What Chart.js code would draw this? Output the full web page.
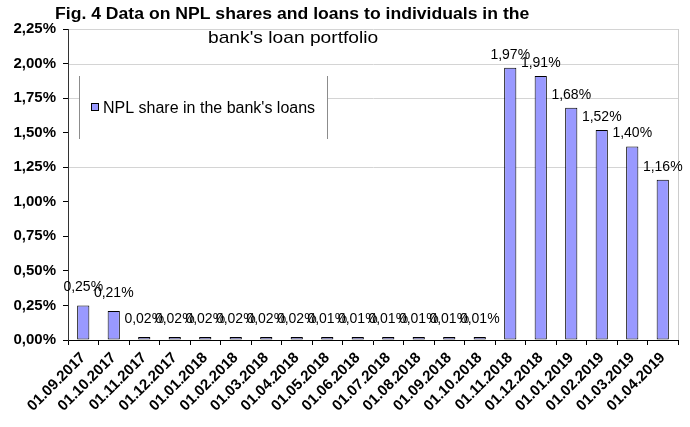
<!DOCTYPE html>
<html><head><meta charset="utf-8">
<script src="https://cdn.jsdelivr.net/npm/chart.js@4.4.1/dist/chart.umd.min.js"></script>
<style>html,body{margin:0;padding:0;background:#fff}#wrap{width:690px;height:427px}canvas{display:block}</style>
</head><body><div id="wrap"><canvas id="c" width="690" height="427"></canvas></div>
<script>
// ---- data ----
const categories = ["01.09.2017","01.10.2017","01.11.2017","01.12.2017","01.01.2018","01.02.2018","01.03.2018","01.04.2018","01.05.2018","01.06.2018","01.07.2018","01.08.2018","01.09.2018","01.10.2018","01.11.2018","01.12.2018","01.01.2019","01.02.2019","01.03.2019","01.04.2019"];
const nplShare = [0.25,0.21,0.02,0.02,0.02,0.02,0.02,0.02,0.01,0.01,0.01,0.01,0.01,0.01,1.97,1.91,1.68,1.52,1.40,1.16];
const seriesName = "NPL share in the bank's loans";
const titleLine1 = "Fig. 4 Data on NPL shares and loans to individuals in the";
const titleLine2 = "bank's loan portfolio";
const yMin = 0, yMax = 2.25, yStep = 0.25;
const gridAt = [1.25, 1.75, 2.00, 2.25];

const FONT = '"Liberation Sans", Arial, sans-serif';
const fmt = v => v.toFixed(2).replace('.', ',') + '%';

const overlay = {
  id: 'overlay',
  beforeDatasetsDraw(chart) {
    const ctx = chart.ctx;
    const y = chart.scales.y;
    const a = chart.chartArea;
    ctx.save();
    ctx.strokeStyle = '#d4d4d4';
    ctx.lineWidth = 1;
    ctx.beginPath();
    gridAt.forEach(g => {
      const py = Math.round(y.getPixelForValue(g)) + 0.5;
      ctx.moveTo(a.left + 1, py);
      ctx.lineTo(a.right, py);
    });
    ctx.stroke();
    ctx.restore();
  },
  afterDatasetsDraw(chart) {
    const ctx = chart.ctx;
    // data labels
    const meta = chart.getDatasetMeta(0);
    ctx.save();
    ctx.font = '14px ' + FONT;
    ctx.fillStyle = '#000';
    ctx.textAlign = 'center';
    ctx.textBaseline = 'alphabetic';
    meta.data.forEach((el, i) => {
      const v = nplShare[i];
      const off = v >= 1 ? 9 : 14;
      ctx.fillText(fmt(v), el.x, el.y - off);
    });
    ctx.restore();
    // legend
    ctx.save();
    ctx.fillStyle = '#fff';
    ctx.fillRect(79, 76, 248, 63);
    ctx.strokeStyle = '#8c8c8c';
    ctx.lineWidth = 1;
    ctx.beginPath();
    ctx.moveTo(79.5, 76); ctx.lineTo(79.5, 139);
    ctx.moveTo(327.5, 76); ctx.lineTo(327.5, 139);
    ctx.stroke();
    ctx.fillStyle = '#9999FF';
    ctx.fillRect(91, 103, 8, 8);
    ctx.strokeStyle = '#000';
    ctx.strokeRect(91.5, 103.5, 7, 7);
    ctx.fillStyle = '#000';
    ctx.font = '16px ' + FONT;
    ctx.textAlign = 'left';
    ctx.textBaseline = 'alphabetic';
    ctx.fillText(seriesName, 103, 113);
    ctx.restore();
  },
  afterDraw(chart) {
    const ctx = chart.ctx;
    ctx.save();
    ctx.fillStyle = '#000';
    ctx.textAlign = 'left';
    ctx.textBaseline = 'alphabetic';
    ctx.translate(55, 19);
    ctx.scale(1.1, 1);
    ctx.font = 'bold 16px ' + FONT;
    ctx.fillText(titleLine1, 0, 0);
    ctx.restore();
    ctx.save();
    ctx.fillStyle = '#000';
    ctx.translate(208, 43);
    ctx.scale(1.13, 1);
    ctx.font = '17px ' + FONT;
    ctx.fillText(titleLine2, 0, 0);
    ctx.restore();
  }
};

new Chart(document.getElementById('c'), {
  type: 'bar',
  data: {
    labels: categories,
    datasets: [{
      label: seriesName,
      data: nplShare,
      backgroundColor: '#9999FF',
      borderColor: '#000',
      borderWidth: 1,
      borderSkipped: false,
      minBarLength: 3,
      barPercentage: 0.4,
      categoryPercentage: 1
    }]
  },
  options: {
    responsive: false,
    animation: false,
    devicePixelRatio: 1,
    layout: { padding: { top: 29, right: 12, left: 0, bottom: 0 } },
    plugins: { legend: { display: false }, title: { display: false }, tooltip: { enabled: false } },
    scales: {
      x: {
        grid: {
          offset: true,
          color: c => c.tick ? 'rgba(0,0,0,0)' : '#cccccc',
          tickColor: '#000',
          tickLength: 5
        },
        border: { color: '#000', width: 1 },
        ticks: {
          minRotation: 45, maxRotation: 45, autoSkip: false, padding: 4,
          color: '#000', font: { family: FONT, size: 15, weight: 'bold' }
        },
        afterFit: s => { s.height = 87; }
      },
      y: {
        min: yMin, max: yMax,
        ticks: {
          stepSize: yStep, padding: 7, color: '#000',
          font: { family: FONT, size: 15, weight: 'bold' },
          callback: v => fmt(v)
        },
        grid: {
          drawOnChartArea: false,
          color: '#000',
          tickColor: '#000',
          tickLength: 5
        },
        border: { color: '#333', width: 1 },
        afterFit: s => { s.width = 68; }
      }
    }
  },
  plugins: [overlay]
});
</script>
</body></html>
